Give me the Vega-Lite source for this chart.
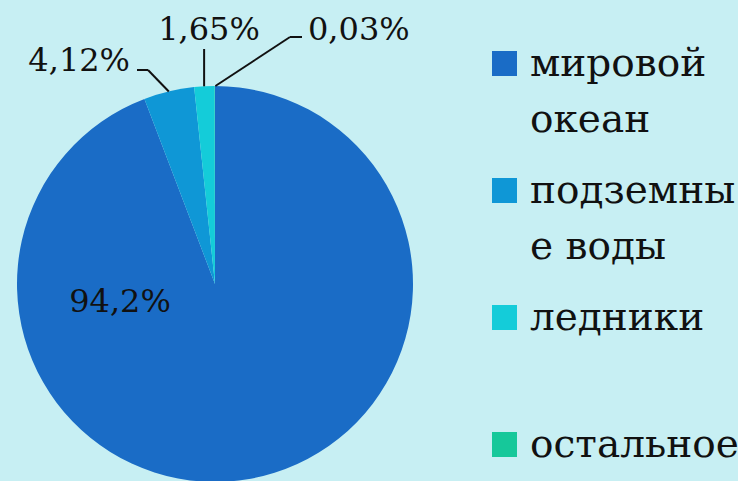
{
  "$schema": "https://vega.github.io/schema/vega-lite/v6.json",
  "width": 480,
  "height": 481,
  "padding": 0,
  "background": "#c7eff3",
  "config": {"view": {"stroke": null}, "style": {"guide-label": {"lineHeight": 56}}},
  "data": {
    "values": [
      {"idx": 1, "category": "мировой океан", "value": 94.2, "label": "94,2%"},
      {"idx": 2, "category": "подземные воды", "value": 4.12, "label": "4,12%"},
      {"idx": 3, "category": "ледники", "value": 1.65, "label": "1,65%"},
      {"idx": 4, "category": "остальное", "value": 0.03, "label": "0,03%"}
    ]
  },
  "layer": [
    {
      "mark": {"type": "arc", "outerRadius": 198, "stroke": null},
      "encoding": {
        "theta": {"field": "value", "type": "quantitative", "stack": true},
        "order": {"field": "idx", "type": "quantitative"},
        "color": {
          "field": "category", "type": "nominal",
          "scale": {
            "domain": ["мировой океан", "подземные воды", "ледники", "остальное"],
            "range": ["#1a6cc6", "#0f97d6", "#14ccd9", "#16c89a"]
          },
          "legend": {
            "title": null,
            "orient": "none",
            "legendX": 485,
            "legendY": 44,
            "symbolType": "square",
            "symbolSize": 625,
            "symbolStrokeWidth": 0,
            "symbolOpacity": 1,
            "labelFont": "DejaVu Serif",
            "labelFontSize": 39,
            "labelColor": "#111111",
            "labelLimit": 400,
            "labelOffset": 6,
            "labelBaseline": "middle",
            "rowPadding": 31,
            "labelExpr": "datum.label == 'мировой океан' ? ['мировой', 'океан'] : datum.label == 'подземные воды' ? ['подземны', 'е воды'] : datum.label == 'ледники' ? ['ледники', ' '] : ['остальное', ' ']",
            "encode": {"labels": {"enter": {"lineHeight": {"value": 56}}, "update": {"lineHeight": {"value": 56}}}}
          }
        },
        "x": {"datum": 0, "type": "quantitative", "axis": null, "scale": {"domain": [-108.59, 133.84], "nice": false, "zero": false}},
        "y": {"datum": 0, "type": "quantitative", "axis": null, "scale": {"domain": [-99.49, 143.43], "nice": false, "zero": false}}
      }
    },
    {
      "transform": [{"filter": "datum.idx == 1"}],
      "mark": {"type": "text", "font": "DejaVu Serif", "fontSize": 32, "align": "center", "baseline": "alphabetic", "color": "#111111"},
      "encoding": {
        "text": {"field": "label"},
        "x": {"datum": -47.98, "type": "quantitative", "axis": null, "scale": {"domain": [-108.59, 133.84], "nice": false, "zero": false}},
        "y": {"datum": -14.14, "type": "quantitative", "axis": null, "scale": {"domain": [-99.49, 143.43], "nice": false, "zero": false}}
      }
    },
    {
      "transform": [{"filter": "datum.idx == 2"}],
      "mark": {"type": "text", "font": "DejaVu Serif", "fontSize": 32, "align": "right", "baseline": "alphabetic", "color": "#111111"},
      "encoding": {
        "text": {"field": "label"},
        "x": {"datum": -42.93, "type": "quantitative", "axis": null, "scale": {"domain": [-108.59, 133.84], "nice": false, "zero": false}},
        "y": {"datum": 107.58, "type": "quantitative", "axis": null, "scale": {"domain": [-99.49, 143.43], "nice": false, "zero": false}}
      }
    },
    {
      "transform": [{"filter": "datum.idx == 3"}],
      "mark": {"type": "text", "font": "DejaVu Serif", "fontSize": 32, "align": "center", "baseline": "alphabetic", "color": "#111111"},
      "encoding": {
        "text": {"field": "label"},
        "x": {"datum": -3.03, "type": "quantitative", "axis": null, "scale": {"domain": [-108.59, 133.84], "nice": false, "zero": false}},
        "y": {"datum": 123.23, "type": "quantitative", "axis": null, "scale": {"domain": [-99.49, 143.43], "nice": false, "zero": false}}
      }
    },
    {
      "transform": [{"filter": "datum.idx == 4"}],
      "mark": {"type": "text", "font": "DejaVu Serif", "fontSize": 32, "align": "left", "baseline": "alphabetic", "color": "#111111"},
      "encoding": {
        "text": {"field": "label"},
        "x": {"datum": 46.97, "type": "quantitative", "axis": null, "scale": {"domain": [-108.59, 133.84], "nice": false, "zero": false}},
        "y": {"datum": 123.48, "type": "quantitative", "axis": null, "scale": {"domain": [-99.49, 143.43], "nice": false, "zero": false}}
      }
    },
    {
      "data": {"values": [{}]},
      "mark": {"type": "rule", "color": "#111111", "strokeWidth": 2},
      "encoding": {
        "x": {"datum": -39.39, "type": "quantitative", "axis": null, "scale": {"domain": [-108.59, 133.84], "nice": false, "zero": false}},
        "x2": {"datum": -33.84},
        "y": {"datum": 108.08, "type": "quantitative", "axis": null, "scale": {"domain": [-99.49, 143.43], "nice": false, "zero": false}},
        "y2": {"datum": 108.08}
      }
    },
    {
      "data": {"values": [{}]},
      "mark": {"type": "rule", "color": "#111111", "strokeWidth": 2},
      "encoding": {
        "x": {"datum": -33.84, "type": "quantitative", "axis": null, "scale": {"domain": [-108.59, 133.84], "nice": false, "zero": false}},
        "x2": {"datum": -23.35},
        "y": {"datum": 108.08, "type": "quantitative", "axis": null, "scale": {"domain": [-99.49, 143.43], "nice": false, "zero": false}},
        "y2": {"datum": 97.24}
      }
    },
    {
      "data": {"values": [{}]},
      "mark": {"type": "rule", "color": "#111111", "strokeWidth": 2},
      "encoding": {
        "x": {"datum": -5.5, "type": "quantitative", "axis": null, "scale": {"domain": [-108.59, 133.84], "nice": false, "zero": false}},
        "x2": {"datum": -5.5},
        "y": {"datum": 99.85, "type": "quantitative", "axis": null, "scale": {"domain": [-99.49, 143.43], "nice": false, "zero": false}},
        "y2": {"datum": 118.69}
      }
    },
    {
      "data": {"values": [{}]},
      "mark": {"type": "rule", "color": "#111111", "strokeWidth": 2},
      "encoding": {
        "x": {"datum": 0.2, "type": "quantitative", "axis": null, "scale": {"domain": [-108.59, 133.84], "nice": false, "zero": false}},
        "x2": {"datum": 37.88},
        "y": {"datum": 100, "type": "quantitative", "axis": null, "scale": {"domain": [-99.49, 143.43], "nice": false, "zero": false}},
        "y2": {"datum": 124.75}
      }
    },
    {
      "data": {"values": [{}]},
      "mark": {"type": "rule", "color": "#111111", "strokeWidth": 2},
      "encoding": {
        "x": {"datum": 37.88, "type": "quantitative", "axis": null, "scale": {"domain": [-108.59, 133.84], "nice": false, "zero": false}},
        "x2": {"datum": 43.94},
        "y": {"datum": 124.75, "type": "quantitative", "axis": null, "scale": {"domain": [-99.49, 143.43], "nice": false, "zero": false}},
        "y2": {"datum": 124.75}
      }
    }
  ]
}
